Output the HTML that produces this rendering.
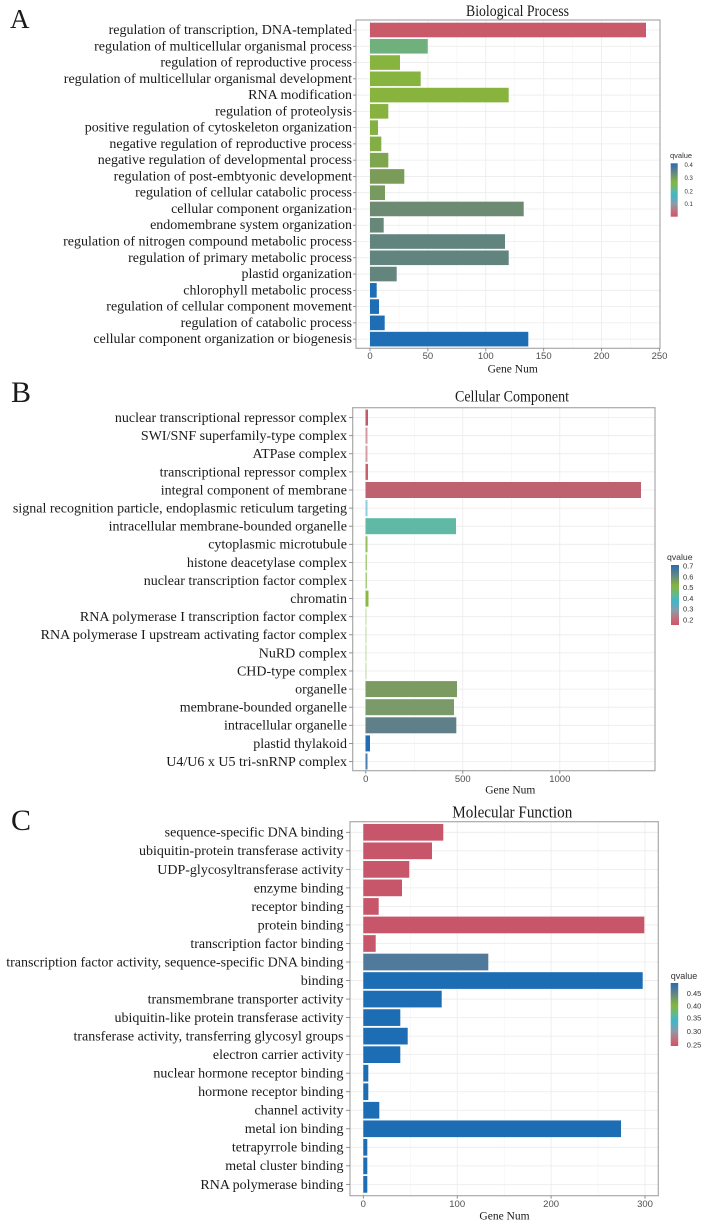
<!DOCTYPE html>
<html><head><meta charset="utf-8"><style>
html,body{margin:0;padding:0;background:#fff;}
svg{display:block;}
.lab{font-family:"Liberation Serif",serif;fill:#1a1a1a;}
.tk{font-family:"Liberation Sans",sans-serif;fill:#4d4d4d;font-size:9.5px;}
.lg{font-family:"Liberation Sans",sans-serif;fill:#333;}
.gmaj{stroke:#ebebeb;stroke-width:0.8;}
.gmin{stroke:#f3f3f3;stroke-width:0.6;}
.bd{fill:none;stroke:#a9a9a9;stroke-width:1.2;}
.tick{stroke:#777;stroke-width:0.8;}
</style></head><body>
<svg width="707" height="1226" viewBox="0 0 707 1226" xmlns="http://www.w3.org/2000/svg">
<defs>
<linearGradient id="qg" x1="0" y1="0" x2="0" y2="1">
<stop offset="0" stop-color="#2a6cb0"/>
<stop offset="0.15" stop-color="#5d818c"/>
<stop offset="0.35" stop-color="#86b43e"/>
<stop offset="0.5" stop-color="#62b893"/>
<stop offset="0.6" stop-color="#3fb6cc"/>
<stop offset="0.76" stop-color="#8a9ca8"/>
<stop offset="0.9" stop-color="#c66b7a"/>
<stop offset="1" stop-color="#c9576b"/>
</linearGradient>
</defs>

<!-- ================= PANEL A ================= -->
<text x="10" y="28" class="lab" font-size="27">A</text>
<text x="466" y="16" class="lab" font-size="16" textLength="103" lengthAdjust="spacingAndGlyphs">Biological Process</text>
<g class="gmin">
<line x1="399" y1="20" x2="399" y2="348.3"/><line x1="456.9" y1="20" x2="456.9" y2="348.3"/><line x1="514.8" y1="20" x2="514.8" y2="348.3"/><line x1="572.7" y1="20" x2="572.7" y2="348.3"/><line x1="630.6" y1="20" x2="630.6" y2="348.3"/>
</g>
<g class="gmaj">
<line x1="370" y1="20" x2="370" y2="348.3"/><line x1="427.9" y1="20" x2="427.9" y2="348.3"/><line x1="485.8" y1="20" x2="485.8" y2="348.3"/><line x1="543.7" y1="20" x2="543.7" y2="348.3"/><line x1="601.6" y1="20" x2="601.6" y2="348.3"/>
<line x1="356" y1="30" x2="660" y2="30"/><line x1="356" y1="46.27" x2="660" y2="46.27"/><line x1="356" y1="62.54" x2="660" y2="62.54"/><line x1="356" y1="78.81" x2="660" y2="78.81"/><line x1="356" y1="95.08" x2="660" y2="95.08"/><line x1="356" y1="111.35" x2="660" y2="111.35"/><line x1="356" y1="127.62" x2="660" y2="127.62"/><line x1="356" y1="143.89" x2="660" y2="143.89"/><line x1="356" y1="160.16" x2="660" y2="160.16"/><line x1="356" y1="176.43" x2="660" y2="176.43"/><line x1="356" y1="192.7" x2="660" y2="192.7"/><line x1="356" y1="208.97" x2="660" y2="208.97"/><line x1="356" y1="225.24" x2="660" y2="225.24"/><line x1="356" y1="241.51" x2="660" y2="241.51"/><line x1="356" y1="257.78" x2="660" y2="257.78"/><line x1="356" y1="274.05" x2="660" y2="274.05"/><line x1="356" y1="290.32" x2="660" y2="290.32"/><line x1="356" y1="306.59" x2="660" y2="306.59"/><line x1="356" y1="322.86" x2="660" y2="322.86"/><line x1="356" y1="339.13" x2="660" y2="339.13"/>
</g>
<g>
<rect x="370" y="22.7" width="276" height="14.6" fill="#c95a6a"/>
<rect x="370" y="38.97" width="57.7" height="14.6" fill="#6fb07c"/>
<rect x="370" y="55.24" width="30" height="14.6" fill="#87b43f"/>
<rect x="370" y="71.51" width="50.7" height="14.6" fill="#87b43f"/>
<rect x="370" y="87.78" width="138.7" height="14.6" fill="#88b43d"/>
<rect x="370" y="104.05" width="18.3" height="14.6" fill="#87b240"/>
<rect x="370" y="120.32" width="8" height="14.6" fill="#85b042"/>
<rect x="370" y="136.59" width="11.3" height="14.6" fill="#83ad45"/>
<rect x="370" y="152.86" width="18.3" height="14.6" fill="#7ea64e"/>
<rect x="370" y="169.13" width="34.3" height="14.6" fill="#7a9c58"/>
<rect x="370" y="185.4" width="15" height="14.6" fill="#779a5f"/>
<rect x="370" y="201.67" width="153.7" height="14.6" fill="#6d8b72"/>
<rect x="370" y="217.94" width="13.7" height="14.6" fill="#678879"/>
<rect x="370" y="234.21" width="135" height="14.6" fill="#62847f"/>
<rect x="370" y="250.48" width="138.7" height="14.6" fill="#62847f"/>
<rect x="370" y="266.75" width="26.7" height="14.6" fill="#63857d"/>
<rect x="370" y="283.02" width="6.7" height="14.6" fill="#1f6eb5"/>
<rect x="370" y="299.29" width="9" height="14.6" fill="#1f6eb5"/>
<rect x="370" y="315.56" width="14.7" height="14.6" fill="#1f6eb5"/>
<rect x="370" y="331.83" width="158.3" height="14.6" fill="#1f6eb5"/>
</g>
<rect x="356" y="20" width="304" height="328.3" class="bd"/>
<g class="tick">
<line x1="353" y1="30" x2="356" y2="30"/><line x1="353" y1="46.27" x2="356" y2="46.27"/><line x1="353" y1="62.54" x2="356" y2="62.54"/><line x1="353" y1="78.81" x2="356" y2="78.81"/><line x1="353" y1="95.08" x2="356" y2="95.08"/><line x1="353" y1="111.35" x2="356" y2="111.35"/><line x1="353" y1="127.62" x2="356" y2="127.62"/><line x1="353" y1="143.89" x2="356" y2="143.89"/><line x1="353" y1="160.16" x2="356" y2="160.16"/><line x1="353" y1="176.43" x2="356" y2="176.43"/><line x1="353" y1="192.7" x2="356" y2="192.7"/><line x1="353" y1="208.97" x2="356" y2="208.97"/><line x1="353" y1="225.24" x2="356" y2="225.24"/><line x1="353" y1="241.51" x2="356" y2="241.51"/><line x1="353" y1="257.78" x2="356" y2="257.78"/><line x1="353" y1="274.05" x2="356" y2="274.05"/><line x1="353" y1="290.32" x2="356" y2="290.32"/><line x1="353" y1="306.59" x2="356" y2="306.59"/><line x1="353" y1="322.86" x2="356" y2="322.86"/><line x1="353" y1="339.13" x2="356" y2="339.13"/>
<line x1="370" y1="348.3" x2="370" y2="351.3"/><line x1="427.9" y1="348.3" x2="427.9" y2="351.3"/><line x1="485.8" y1="348.3" x2="485.8" y2="351.3"/><line x1="543.7" y1="348.3" x2="543.7" y2="351.3"/><line x1="601.6" y1="348.3" x2="601.6" y2="351.3"/><line x1="659.5" y1="348.3" x2="659.5" y2="351.3"/>
</g>
<g class="lab" font-size="14" text-anchor="end">
<text x="352" y="34">regulation of transcription, DNA-templated</text>
<text x="352" y="50.27">regulation of multicellular organismal process</text>
<text x="352" y="66.54">regulation of reproductive process</text>
<text x="352" y="82.81">regulation of multicellular organismal development</text>
<text x="352" y="99.08">RNA modification</text>
<text x="352" y="115.35">regulation of proteolysis</text>
<text x="352" y="131.62">positive regulation of cytoskeleton organization</text>
<text x="352" y="147.89">negative regulation of reproductive process</text>
<text x="352" y="164.16">negative regulation of developmental process</text>
<text x="352" y="180.43">regulation of post-embtyonic development</text>
<text x="352" y="196.7">regulation of cellular catabolic process</text>
<text x="352" y="212.97">cellular component organization</text>
<text x="352" y="229.24">endomembrane system organization</text>
<text x="352" y="245.51">regulation of nitrogen compound metabolic process</text>
<text x="352" y="261.78">regulation of primary metabolic process</text>
<text x="352" y="278.05">plastid organization</text>
<text x="352" y="294.32">chlorophyll metabolic process</text>
<text x="352" y="310.59">regulation of cellular component movement</text>
<text x="352" y="326.86">regulation of catabolic process</text>
<text x="352" y="343.13">cellular component organization or biogenesis</text>
</g>
<g class="tk" text-anchor="middle">
<text x="370" y="359">0</text><text x="427.9" y="359">50</text><text x="485.8" y="359">100</text><text x="543.7" y="359">150</text><text x="601.6" y="359">200</text><text x="659.5" y="359">250</text>
</g>
<text x="512.7" y="372.3" class="lab" font-size="11.5" text-anchor="middle">Gene Num</text>
<text x="670" y="158" class="lg" font-size="7.5">qvalue</text>
<rect x="670.7" y="163.3" width="7" height="53.4" fill="url(#qg)"/>
<g class="lg" font-size="6" fill="#4d4d4d">
<text x="684.5" y="167">0.4</text><text x="684.5" y="180">0.3</text><text x="684.5" y="193.7">0.2</text><text x="684.5" y="206">0.1</text>
</g>

<!-- ================= PANEL B ================= -->
<text x="11" y="402" class="lab" font-size="30">B</text>
<text x="455" y="401.7" class="lab" font-size="16" textLength="114" lengthAdjust="spacingAndGlyphs">Cellular Component</text>
<g class="gmin">
<line x1="414.3" y1="407.7" x2="414.3" y2="770.7"/><line x1="511.3" y1="407.7" x2="511.3" y2="770.7"/><line x1="608.3" y1="407.7" x2="608.3" y2="770.7"/>
</g>
<g class="gmaj">
<line x1="365.8" y1="407.7" x2="365.8" y2="770.7"/><line x1="462.8" y1="407.7" x2="462.8" y2="770.7"/><line x1="559.8" y1="407.7" x2="559.8" y2="770.7"/>
<line x1="352.7" y1="417.6" x2="655" y2="417.6"/><line x1="352.7" y1="435.7" x2="655" y2="435.7"/><line x1="352.7" y1="453.8" x2="655" y2="453.8"/><line x1="352.7" y1="471.9" x2="655" y2="471.9"/><line x1="352.7" y1="490" x2="655" y2="490"/><line x1="352.7" y1="508.1" x2="655" y2="508.1"/><line x1="352.7" y1="526.2" x2="655" y2="526.2"/><line x1="352.7" y1="544.3" x2="655" y2="544.3"/><line x1="352.7" y1="562.4" x2="655" y2="562.4"/><line x1="352.7" y1="580.5" x2="655" y2="580.5"/><line x1="352.7" y1="598.6" x2="655" y2="598.6"/><line x1="352.7" y1="616.7" x2="655" y2="616.7"/><line x1="352.7" y1="634.8" x2="655" y2="634.8"/><line x1="352.7" y1="652.9" x2="655" y2="652.9"/><line x1="352.7" y1="671" x2="655" y2="671"/><line x1="352.7" y1="689.1" x2="655" y2="689.1"/><line x1="352.7" y1="707.2" x2="655" y2="707.2"/><line x1="352.7" y1="725.3" x2="655" y2="725.3"/><line x1="352.7" y1="743.4" x2="655" y2="743.4"/><line x1="352.7" y1="761.5" x2="655" y2="761.5"/>
</g>
<g>
<rect x="365.5" y="409.6" width="2.5" height="16" fill="#c25a6b"/>
<rect x="365.5" y="427.7" width="2" height="16" fill="#d49aa5"/>
<rect x="365.5" y="445.8" width="2" height="16" fill="#d3a0aa"/>
<rect x="365.5" y="463.9" width="2.5" height="16" fill="#c7606f"/>
<rect x="365.5" y="482" width="275.5" height="16" fill="#be6270"/>
<rect x="365.5" y="500.1" width="2" height="16" fill="#8dcfdc"/>
<rect x="365.5" y="518.2" width="90.5" height="16" fill="#5fb9a5"/>
<rect x="365.5" y="536.3" width="2" height="16" fill="#98bd5c"/>
<rect x="365.5" y="554.4" width="1.5" height="16" fill="#a9cc7a"/>
<rect x="365.5" y="572.5" width="1.5" height="16" fill="#a9cc7a"/>
<rect x="365.5" y="590.6" width="3" height="16" fill="#8cb944"/>
<rect x="365.5" y="608.7" width="1" height="16" fill="#c2d9a0"/>
<rect x="365.5" y="626.8" width="1" height="16" fill="#c2d9a0"/>
<rect x="365.5" y="644.9" width="1" height="16" fill="#c2d9a0"/>
<rect x="365.5" y="663" width="1" height="16" fill="#c2d9a0"/>
<rect x="365.5" y="681.1" width="91.5" height="16" fill="#7b9b62"/>
<rect x="365.5" y="699.2" width="88.5" height="16" fill="#7a9a6a"/>
<rect x="365.5" y="717.3" width="90.8" height="16" fill="#5f8088"/>
<rect x="365.5" y="735.4" width="4.5" height="16" fill="#1f6eb5"/>
<rect x="365.5" y="753.5" width="2" height="16" fill="#4a7fb2"/>
</g>
<rect x="352.7" y="407.7" width="302.3" height="363" class="bd"/>
<g class="tick">
<line x1="349" y1="417.6" x2="352.7" y2="417.6"/><line x1="349" y1="435.7" x2="352.7" y2="435.7"/><line x1="349" y1="453.8" x2="352.7" y2="453.8"/><line x1="349" y1="471.9" x2="352.7" y2="471.9"/><line x1="349" y1="490" x2="352.7" y2="490"/><line x1="349" y1="508.1" x2="352.7" y2="508.1"/><line x1="349" y1="526.2" x2="352.7" y2="526.2"/><line x1="349" y1="544.3" x2="352.7" y2="544.3"/><line x1="349" y1="562.4" x2="352.7" y2="562.4"/><line x1="349" y1="580.5" x2="352.7" y2="580.5"/><line x1="349" y1="598.6" x2="352.7" y2="598.6"/><line x1="349" y1="616.7" x2="352.7" y2="616.7"/><line x1="349" y1="634.8" x2="352.7" y2="634.8"/><line x1="349" y1="652.9" x2="352.7" y2="652.9"/><line x1="349" y1="671" x2="352.7" y2="671"/><line x1="349" y1="689.1" x2="352.7" y2="689.1"/><line x1="349" y1="707.2" x2="352.7" y2="707.2"/><line x1="349" y1="725.3" x2="352.7" y2="725.3"/><line x1="349" y1="743.4" x2="352.7" y2="743.4"/><line x1="349" y1="761.5" x2="352.7" y2="761.5"/>
<line x1="365.8" y1="770.7" x2="365.8" y2="773.7"/><line x1="462.8" y1="770.7" x2="462.8" y2="773.7"/><line x1="559.8" y1="770.7" x2="559.8" y2="773.7"/>
</g>
<g class="lab" font-size="14" text-anchor="end">
<text x="347" y="422">nuclear transcriptional repressor complex</text>
<text x="347" y="440.1">SWI/SNF superfamily-type complex</text>
<text x="347" y="458.2">ATPase complex</text>
<text x="347" y="476.3">transcriptional repressor complex</text>
<text x="347" y="494.4">integral component of membrane</text>
<text x="347" y="512.5">signal recognition particle, endoplasmic reticulum targeting</text>
<text x="347" y="530.6">intracellular membrane-bounded organelle</text>
<text x="347" y="548.7">cytoplasmic microtubule</text>
<text x="347" y="566.8">histone deacetylase complex</text>
<text x="347" y="584.9">nuclear transcription factor complex</text>
<text x="347" y="603">chromatin</text>
<text x="347" y="621.1">RNA polymerase I transcription factor complex</text>
<text x="347" y="639.2">RNA polymerase I upstream activating factor complex</text>
<text x="347" y="657.3">NuRD complex</text>
<text x="347" y="675.4">CHD-type complex</text>
<text x="347" y="693.5">organelle</text>
<text x="347" y="711.6">membrane-bounded organelle</text>
<text x="347" y="729.7">intracellular organelle</text>
<text x="347" y="747.8">plastid thylakoid</text>
<text x="347" y="765.9">U4/U6 x U5 tri-snRNP complex</text>
</g>
<g class="tk" text-anchor="middle">
<text x="365.8" y="782">0</text><text x="462.8" y="782">500</text><text x="559.8" y="782">1000</text>
</g>
<text x="510.3" y="793.3" class="lab" font-size="11.5" text-anchor="middle">Gene Num</text>
<text x="667" y="560" class="lg" font-size="8.7">qvalue</text>
<rect x="671" y="565" width="8" height="60" fill="url(#qg)"/>
<g class="lg" font-size="7.5" fill="#4d4d4d">
<text x="683" y="568.3">0.7</text><text x="683" y="579.3">0.6</text><text x="683" y="589.9">0.5</text><text x="683" y="600.9">0.4</text><text x="683" y="611.6">0.3</text><text x="683" y="622.6">0.2</text>
</g>

<!-- ================= PANEL C ================= -->
<text x="11" y="830" class="lab" font-size="30">C</text>
<text x="452.3" y="817.7" class="lab" font-size="16.5" textLength="120" lengthAdjust="spacingAndGlyphs">Molecular Function</text>
<g class="gmin">
<line x1="410.3" y1="821.7" x2="410.3" y2="1195.7"/><line x1="504.2" y1="821.7" x2="504.2" y2="1195.7"/><line x1="598.1" y1="821.7" x2="598.1" y2="1195.7"/>
</g>
<g class="gmaj">
<line x1="363.3" y1="821.7" x2="363.3" y2="1195.7"/><line x1="457.2" y1="821.7" x2="457.2" y2="1195.7"/><line x1="551.1" y1="821.7" x2="551.1" y2="1195.7"/><line x1="645" y1="821.7" x2="645" y2="1195.7"/>
<line x1="350" y1="832.3" x2="658.3" y2="832.3"/><line x1="350" y1="850.83" x2="658.3" y2="850.83"/><line x1="350" y1="869.36" x2="658.3" y2="869.36"/><line x1="350" y1="887.89" x2="658.3" y2="887.89"/><line x1="350" y1="906.42" x2="658.3" y2="906.42"/><line x1="350" y1="924.95" x2="658.3" y2="924.95"/><line x1="350" y1="943.48" x2="658.3" y2="943.48"/><line x1="350" y1="962.01" x2="658.3" y2="962.01"/><line x1="350" y1="980.54" x2="658.3" y2="980.54"/><line x1="350" y1="999.07" x2="658.3" y2="999.07"/><line x1="350" y1="1017.6" x2="658.3" y2="1017.6"/><line x1="350" y1="1036.13" x2="658.3" y2="1036.13"/><line x1="350" y1="1054.66" x2="658.3" y2="1054.66"/><line x1="350" y1="1073.19" x2="658.3" y2="1073.19"/><line x1="350" y1="1091.72" x2="658.3" y2="1091.72"/><line x1="350" y1="1110.25" x2="658.3" y2="1110.25"/><line x1="350" y1="1128.78" x2="658.3" y2="1128.78"/><line x1="350" y1="1147.31" x2="658.3" y2="1147.31"/><line x1="350" y1="1165.84" x2="658.3" y2="1165.84"/><line x1="350" y1="1184.37" x2="658.3" y2="1184.37"/>
</g>
<g>
<rect x="363.3" y="823.95" width="80" height="16.7" fill="#c8566a"/>
<rect x="363.3" y="842.48" width="68.7" height="16.7" fill="#c8566a"/>
<rect x="363.3" y="861.01" width="46" height="16.7" fill="#c8566a"/>
<rect x="363.3" y="879.54" width="38.7" height="16.7" fill="#c8566a"/>
<rect x="363.3" y="898.07" width="15.4" height="16.7" fill="#c8566a"/>
<rect x="363.3" y="916.6" width="281" height="16.7" fill="#c8566a"/>
<rect x="363.3" y="935.13" width="12.4" height="16.7" fill="#c8566a"/>
<rect x="363.3" y="953.66" width="125" height="16.7" fill="#4f7a9b"/>
<rect x="363.3" y="972.19" width="279.4" height="16.7" fill="#1c6db4"/>
<rect x="363.3" y="990.72" width="78.4" height="16.7" fill="#1c6db4"/>
<rect x="363.3" y="1009.25" width="37" height="16.7" fill="#1c6db4"/>
<rect x="363.3" y="1027.78" width="44.4" height="16.7" fill="#1c6db4"/>
<rect x="363.3" y="1046.31" width="37" height="16.7" fill="#1c6db4"/>
<rect x="363.3" y="1064.84" width="5" height="16.7" fill="#1c6db4"/>
<rect x="363.3" y="1083.37" width="5" height="16.7" fill="#1c6db4"/>
<rect x="363.3" y="1101.9" width="16" height="16.7" fill="#1c6db4"/>
<rect x="363.3" y="1120.43" width="257.7" height="16.7" fill="#1c6db4"/>
<rect x="363.3" y="1138.96" width="4" height="16.7" fill="#1c6db4"/>
<rect x="363.3" y="1157.49" width="4" height="16.7" fill="#1c6db4"/>
<rect x="363.3" y="1176.02" width="4" height="16.7" fill="#1c6db4"/>
</g>
<rect x="350" y="821.7" width="308.3" height="374" class="bd"/>
<g class="tick">
<line x1="346" y1="832.3" x2="350" y2="832.3"/><line x1="346" y1="850.83" x2="350" y2="850.83"/><line x1="346" y1="869.36" x2="350" y2="869.36"/><line x1="346" y1="887.89" x2="350" y2="887.89"/><line x1="346" y1="906.42" x2="350" y2="906.42"/><line x1="346" y1="924.95" x2="350" y2="924.95"/><line x1="346" y1="943.48" x2="350" y2="943.48"/><line x1="346" y1="962.01" x2="350" y2="962.01"/><line x1="346" y1="980.54" x2="350" y2="980.54"/><line x1="346" y1="999.07" x2="350" y2="999.07"/><line x1="346" y1="1017.6" x2="350" y2="1017.6"/><line x1="346" y1="1036.13" x2="350" y2="1036.13"/><line x1="346" y1="1054.66" x2="350" y2="1054.66"/><line x1="346" y1="1073.19" x2="350" y2="1073.19"/><line x1="346" y1="1091.72" x2="350" y2="1091.72"/><line x1="346" y1="1110.25" x2="350" y2="1110.25"/><line x1="346" y1="1128.78" x2="350" y2="1128.78"/><line x1="346" y1="1147.31" x2="350" y2="1147.31"/><line x1="346" y1="1165.84" x2="350" y2="1165.84"/><line x1="346" y1="1184.37" x2="350" y2="1184.37"/>
<line x1="363.3" y1="1195.7" x2="363.3" y2="1198.7"/><line x1="457.2" y1="1195.7" x2="457.2" y2="1198.7"/><line x1="551.1" y1="1195.7" x2="551.1" y2="1198.7"/><line x1="645" y1="1195.7" x2="645" y2="1198.7"/>
</g>
<g class="lab" font-size="14" text-anchor="end">
<text x="343.5" y="836.7">sequence-specific DNA binding</text>
<text x="343.5" y="855.23">ubiquitin-protein transferase activity</text>
<text x="343.5" y="873.76">UDP-glycosyltransferase activity</text>
<text x="343.5" y="892.29">enzyme binding</text>
<text x="343.5" y="910.82">receptor binding</text>
<text x="343.5" y="929.35">protein binding</text>
<text x="343.5" y="947.88">transcription factor binding</text>
<text x="343.5" y="966.41">transcription factor activity, sequence-specific DNA binding</text>
<text x="343.5" y="984.94">binding</text>
<text x="343.5" y="1003.47">transmembrane transporter activity</text>
<text x="343.5" y="1022">ubiquitin-like protein transferase activity</text>
<text x="343.5" y="1040.53">transferase activity, transferring glycosyl groups</text>
<text x="343.5" y="1059.06">electron carrier activity</text>
<text x="343.5" y="1077.59">nuclear hormone receptor binding</text>
<text x="343.5" y="1096.12">hormone receptor binding</text>
<text x="343.5" y="1114.65">channel activity</text>
<text x="343.5" y="1133.18">metal ion binding</text>
<text x="343.5" y="1151.71">tetrapyrrole binding</text>
<text x="343.5" y="1170.24">metal cluster binding</text>
<text x="343.5" y="1188.77">RNA polymerase binding</text>
</g>
<g class="tk" text-anchor="middle">
<text x="363.3" y="1207">0</text><text x="457.2" y="1207">100</text><text x="551.1" y="1207">200</text><text x="645" y="1207">300</text>
</g>
<text x="504.5" y="1219.3" class="lab" font-size="11.5" text-anchor="middle">Gene Num</text>
<text x="670.7" y="979" class="lg" font-size="9">qvalue</text>
<rect x="670.7" y="983" width="7.5" height="63" fill="url(#qg)"/>
<g class="lg" font-size="7.5" fill="#4d4d4d">
<text x="686.7" y="996">0.45</text><text x="686.7" y="1008.4">0.40</text><text x="686.7" y="1020.7">0.35</text><text x="686.7" y="1034">0.30</text><text x="686.7" y="1047.4">0.25</text>
</g>
</svg>
</body></html>
